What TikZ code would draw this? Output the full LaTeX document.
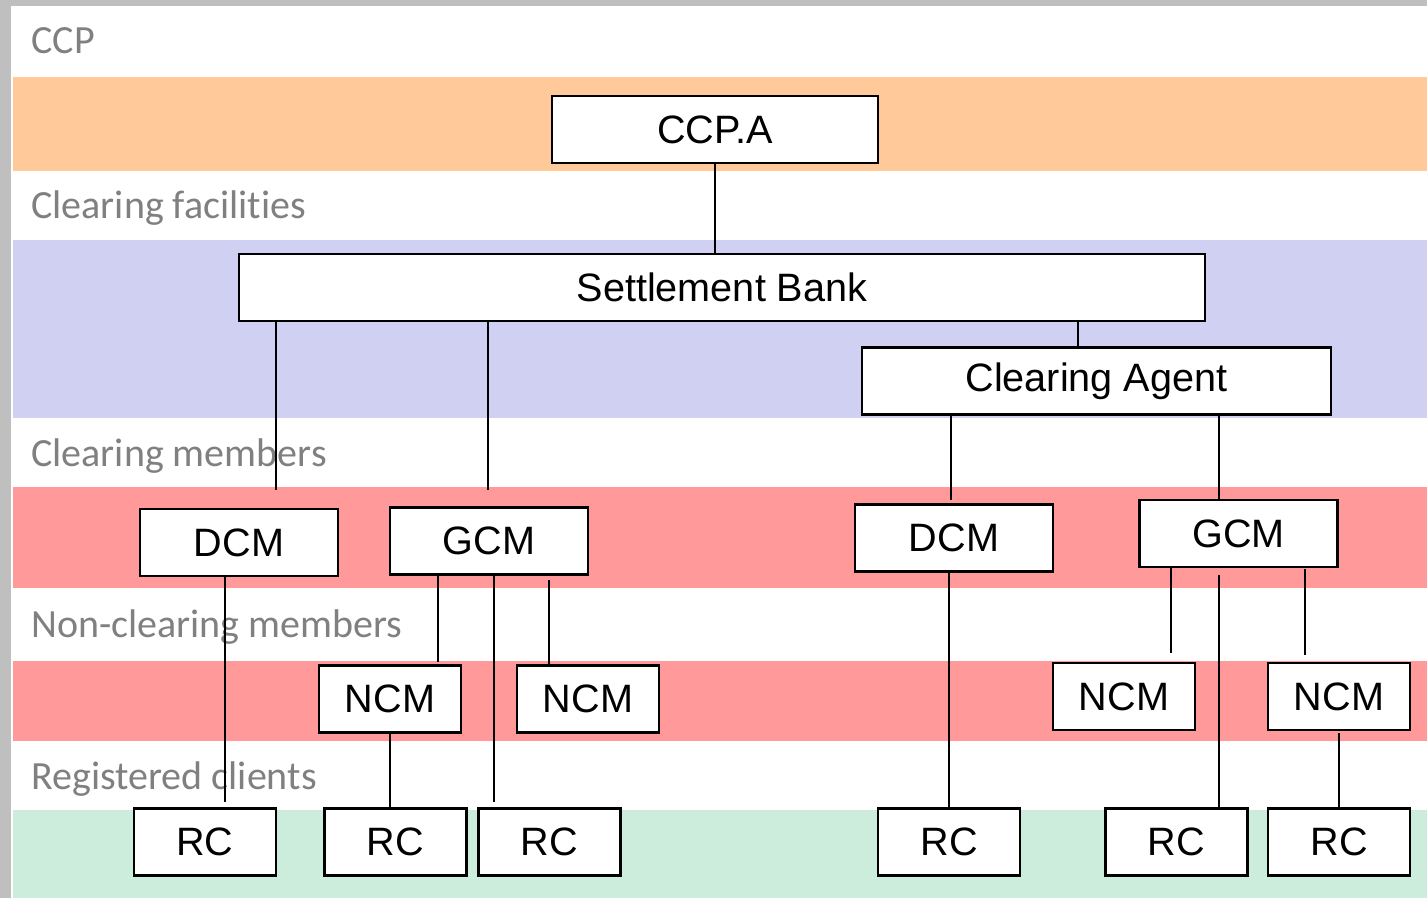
\documentclass[tikz,border=0pt]{standalone}
\usepackage{fontspec}
\usepackage{xcolor}
\usepackage{tikz}
\newfontfamily\boxfont{Liberation Sans}
\newfontfamily\bandfont[Ligatures=NoCommon]{Carlito}
\definecolor{frameGrey}{HTML}{BFBFBF}
\definecolor{labelGrey}{HTML}{808080}
\definecolor{ccpBand}{HTML}{FFC999}
\definecolor{bankBand}{HTML}{D0D0F2}
\definecolor{memberBand}{HTML}{FF999A}
\definecolor{clientBand}{HTML}{CCEDDC}
\newlength\pxu
\setlength\pxu{0.5pt}

\begin{document}
\begin{tikzpicture}[
    x=0.5pt, y=-0.5pt,
    entity/.style={draw=black, line width=1.1pt, fill=white, inner sep=0pt, minimum height=67*\pxu, font=\boxfont\fontsize{19.8}{23}\selectfont},
    member/.style={entity, minimum width=198*\pxu},
    small/.style={entity, minimum width=142*\pxu},
    layer/.style={anchor=base west, inner sep=0pt, text=labelGrey, font=\bandfont\fontsize{20}{24}\selectfont},
    link/.style={line width=0.85pt}
]
\useasboundingbox (0,0) rectangle (1427,898);
% frame and bands
\fill[frameGrey] (0,0) rectangle (1427,898);
\fill[white] (11,6) rectangle (1427,898);
\fill[ccpBand] (13,77) rectangle (1427,171);
\fill[bankBand] (13,240) rectangle (1427,418);
\fill[memberBand] (13,487) rectangle (1427,588);
\fill[memberBand] (13,661) rectangle (1427,741);
\fill[clientBand] (13,810) rectangle (1427,898);

\node[layer] (lccp) at (31,54) {CCP};
\node[layer] (lfac) at (31,219) {Clearing facilities};
\node[layer] (lcm) at (31,466) {Clearing members};
\node[layer] (lncm) at (31,637) {Non-clearing members};
\node[layer] (lrc) at (31,789) {Registered clients};

% entities
\node[entity, minimum width=326*\pxu] (ccpa) at (715,129.5) {CCP.A};
\node[entity, minimum width=966*\pxu] (sb) at (722,287.5) {Settlement Bank};
\node[entity, minimum width=469*\pxu] (ca) at (1096.5,381) {Clearing Agent};
\node[member] (dcmA) at (239,542.5) {DCM};
\node[member] (gcmA) at (489,541) {GCM};
\node[member] (dcmB) at (954,538) {DCM};
\node[member] (gcmB) at (1238.5,533.5) {GCM};
\node[small] (ncmA) at (390,699) {NCM};
\node[small] (ncmB) at (588,699) {NCM};
\node[small] (ncmC) at (1124,696.5) {NCM};
\node[small] (ncmD) at (1339,696.5) {NCM};
\node[small] (rcA) at (205,842) {RC};
\node[small] (rcB) at (395.5,842) {RC};
\node[small] (rcC) at (549.5,842) {RC};
\node[small] (rcD) at (949,842) {RC};
\node[small] (rcE) at (1176.5,842) {RC};
\node[small] (rcF) at (1339,842) {RC};

% free ends of the links
\coordinate (e1) at (276,490);
\coordinate (e2) at (488,490);
\coordinate (e3) at (951,500);
\coordinate (e4) at (225,802);
\coordinate (e5) at (438,662);
\coordinate (e6) at (494,802);
\coordinate (s7) at (549,580);
\coordinate (e8) at (1171,653);
\coordinate (s9) at (1219,575);
\coordinate (e10) at (1305,655);
\coordinate (s10) at (1305,569);
\coordinate (s11) at (1339,733);

% links
\draw[link] (ccpa.south) -- (ccpa.south |- sb.north);
\draw[link] (sb.south -| e1) -- (e1);
\draw[link] (sb.south -| e2) -- (e2);
\draw[link] (sb.south -| 1078,0) -- (ca.north -| 1078,0);
\draw[link] (ca.south -| e3) -- (e3);
\draw[link] (ca.south -| s9) -- (gcmB.north -| s9);
\draw[link] (dcmA.south -| e4) -- (e4);
\draw[link] (gcmA.south -| e5) -- (e5);
\draw[link] (gcmA.south -| e6) -- (e6);
\draw[link] (s7) -- (ncmB.north -| s7);
\draw[link] (ncmA.south) -- (rcB.north -| ncmA);
\draw[link] (dcmB.south -| 949,0) -- (rcD.north -| 949,0);
\draw[link] (gcmB.south -| e8) -- (e8);
\draw[link] (s9) -- (rcE.north -| s9);
\draw[link] (s10) -- (e10);
\draw[link] (s11) -- (rcF.north);
\end{tikzpicture}
\end{document}
